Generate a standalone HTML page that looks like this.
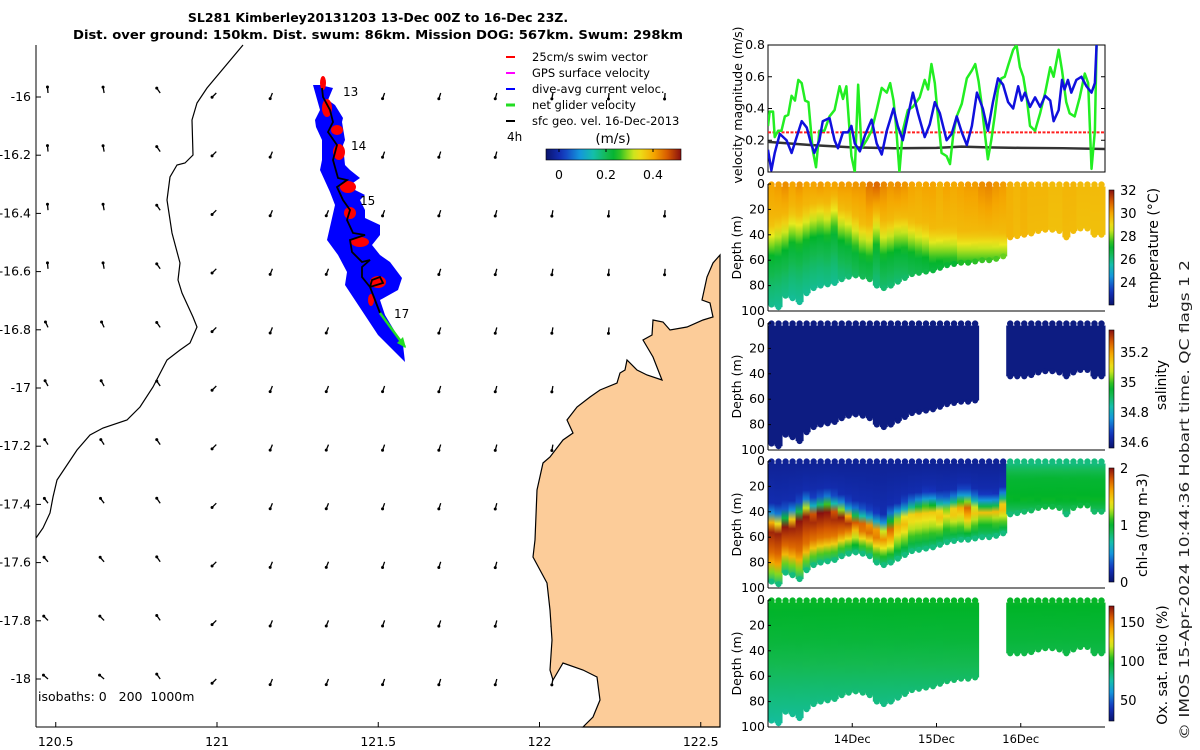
<!DOCTYPE html>
<html><head><meta charset="utf-8">
<style>
html,body{margin:0;padding:0;background:#fff;}
svg{display:block;font-family:"DejaVu Sans","Liberation Sans",sans-serif;}
</style></head>
<body>
<svg id="fig" width="1200" height="750" viewBox="0 0 1200 750" xmlns="http://www.w3.org/2000/svg">
<defs id="defs"></defs>
<text x="378" y="22" text-anchor="middle" font-size="12.5" font-weight="bold">SL281 Kimberley20131203 13-Dec 00Z to 16-Dec 23Z.</text>
<text x="378" y="39" text-anchor="middle" font-size="12.5" font-weight="bold" textLength="610" lengthAdjust="spacingAndGlyphs">Dist. over ground: 150km. Dist. swum: 86km. Mission DOG: 567km. Swum: 298km</text>
<g id="map"></g>
<g id="vel"></g>
<g id="sec"></g>
<text transform="translate(1189,500) rotate(-90)" text-anchor="middle" font-size="13" textLength="480" lengthAdjust="spacingAndGlyphs" fill="#222">© IMOS 15-Apr-2024 10:44:36 Hobart time. QC flags 1  2</text>
</svg>
<script>
// ---------- data ----------
const latTicks=[-16,-16.2,-16.4,-16.6,-16.8,-17,-17.2,-17.4,-17.6,-17.8,-18];
const lonTicks=[120.5,121,121.5,122,122.5];
const greenT=[0,.02,.06,.08,.12,.16,.20,.24,.28,.32,.36,.40,.44,.48,.53,.57,.61,.67,.73,.79,.85,.89,.93,.99,1.03,1.07,1.11,1.17,1.23,1.29,1.35,1.41,1.45,1.49,1.52,1.56,1.60,1.66,1.72,1.80,1.86,1.90,1.94,1.98,2.02,2.06,2.12,2.16,2.20,2.24,2.30,2.36,2.42,2.46,2.50,2.53,2.57,2.61,2.65,2.69,2.73,2.77,2.81,2.85,2.91,2.95,2.99,3.03,3.07,3.11,3.17,3.23,3.29,3.35,3.39,3.45,3.49,3.54,3.58,3.64,3.70,3.76,3.80,3.84,3.88,3.90];
const greenV=[.29,.38,.38,.22,.26,.26,.35,.36,.48,.45,.58,.56,.45,.44,.14,.03,.26,.26,.35,.39,.54,.46,.54,.10,0,.55,.15,.2,.26,.39,.53,.5,.56,.45,.29,0,.26,.39,.41,.47,.58,.52,.68,.56,.33,.12,.10,.05,.24,.35,.43,.59,.64,.68,.57,.45,.26,.08,.2,.35,.52,.59,.6,.67,.77,.8,.66,.6,.47,.29,.26,.37,.5,.66,.6,.77,.64,.44,.37,.35,.47,.62,.56,.02,.26,.8];
const blueT=[0,.04,.08,.14,.22,.28,.34,.40,.46,.51,.55,.61,.65,.73,.79,.83,.89,.95,.99,1.03,1.09,1.15,1.23,1.29,1.35,1.41,1.49,1.54,1.60,1.66,1.72,1.78,1.86,1.92,1.98,2.04,2.12,2.18,2.24,2.30,2.36,2.42,2.48,2.55,2.61,2.67,2.73,2.79,2.85,2.91,2.97,3.01,3.05,3.11,3.17,3.23,3.29,3.35,3.39,3.45,3.49,3.52,3.56,3.60,3.66,3.72,3.78,3.84,3.88,3.90];
const blueV=[.14,.01,.12,.24,.2,.12,.22,.32,.28,.18,.12,.2,.32,.34,.2,.15,.25,.25,.29,.18,.13,.23,.33,.18,.11,.26,.4,.29,.2,.35,.5,.37,.22,.3,.44,.37,.2,.24,.35,.25,.17,.29,.5,.4,.26,.44,.59,.55,.44,.4,.54,.45,.5,.41,.47,.41,.48,.45,.32,.39,.58,.52,.58,.5,.58,.6,.54,.5,.56,.8];
const geoT=[0,.5,1,1.5,2,2.3,2.6,3,3.5,4];
const geoV=[.19,.17,.155,.15,.152,.16,.155,.152,.15,.145];
const swimV=0.25;
const profBottom=[95,97,88,90,93,86,82,80,79,78,75,73,72,73,75,80,82,80,77,74,71,70,69,68,66,64,63,62,62,61,60,60,59,57,42,41,40,39,37,36,36,37,42,37,35,35,40,40];
const thermo=[50,48,45,40,42,38,35,33,35,30,38,40,45,50,52,42,50,48,45,45,48,50,52,55,55,55,55,58,58,58,58,58,58,58,999,999,999,999,999,999,999,999,999,999,999,999,999,999];
const surfT=[30.0,30.1,30.3,30.0,30.2,30.0,30.0,30.1,30.0,30.0,30.1,30.1,30.2,30.2,30.6,30.8,30.4,30.2,30.3,30.2,30.0,29.9,30.0,30.0,29.8,30.0,29.9,30.0,30.1,30.1,30.3,30.4,30.2,30.1,29.8,29.7,29.8,29.7,29.7,29.7,29.6,29.6,29.7,29.7,29.6,29.6,29.6,29.6];
const chlBlueEnd=[40,42,40,38,35,30,32,30,28,30,32,35,38,40,42,45,48,42,38,35,32,30,28,28,30,30,28,25,25,28,30,30,30,25,5,5,5,5,5,5,5,5,5,5,5,5,5,5];
const chlPeak=[2,2,2,2,2,2,2,2,2,2,2,2,1.8,2,2,1.9,1.8,1.8,1.6,1.6,1.5,1.5,1.5,1.5,1.6,1.5,1.6,1.6,1.8,1.6,1.5,1.5,1.6,1.7,1.05,1.0,1.0,1.0,1.0,1.0,1.0,0.95,0.9,0.9,0.85,0.85,0.8,0.8];
const salGapStart=30, salGapEnd=33;
const oxSurf=100, oxMid=95, oxDeep=82;
const arrowAng=[-95,-100,-125,135,112,112,110,108,105,100,95,95,95];
const coastW=[[243,45],[207,88],[197,103],[192,120],[193,155],[185,163],[177,165],[170,177],[167,200],[172,233],[180,263],[178,280],[182,293],[193,317],[197,327],[190,343],[180,350],[167,360],[153,387],[140,407],[127,420],[103,428],[90,435],[77,450],[57,480],[53,497],[50,513],[43,528],[36,538]];
const landE=[[720,255],[713,263],[707,277],[702,300],[710,303],[713,317],[703,320],[687,327],[670,330],[663,322],[653,320],[652,335],[643,340],[653,357],[662,380],[647,375],[637,370],[627,360],[625,370],[620,373],[617,383],[600,390],[590,397],[577,407],[567,420],[573,433],[563,440],[550,457],[543,463],[537,490],[535,540],[533,557],[547,583],[550,610],[552,640],[550,670],[553,680],[563,663],[583,670],[597,677],[600,700],[593,717],[583,727],[720,727]];
const track=[[322,88],[323,97],[330,110],[333,122],[328,132],[337,145],[333,160],[338,178],[347,180],[337,187],[343,200],[350,210],[347,220],[353,233],[365,235],[350,240],[352,252],[362,262],[370,260],[362,267],[362,277],[370,287],[383,283],[380,277],[372,280],[370,287],[380,313]];
const envelope=[[313,85],[320,110],[315,120],[316,127],[322,140],[322,160],[320,170],[330,192],[335,205],[327,240],[338,255],[347,272],[345,285],[378,335],[405,362],[403,345],[385,315],[380,300],[398,290],[402,278],[390,262],[380,255],[372,245],[380,235],[380,225],[365,218],[365,210],[360,200],[365,195],[355,190],[350,185],[360,178],[350,170],[345,165],[343,145],[345,140],[342,122],[343,118],[335,105],[328,100],[333,88],[320,85]];
const redBlobs=[[323,83,3,7],[327,108,5,9],[337,130,6,5],[339,152,6,8],[348,187,8,6],[350,213,6,6],[360,242,9,5],[378,282,8,6],[371,300,3,6]];

// ---------- helpers ----------
const NS="http://www.w3.org/2000/svg";
function mk(tag,attrs,parent){const e=document.createElementNS(NS,tag);for(const k in attrs)e.setAttribute(k,attrs[k]);parent.appendChild(e);return e;}
const cmapStops=[[0,[10,20,110]],[0.12,[20,50,190]],[0.25,[20,150,220]],[0.35,[20,190,170]],[0.45,[20,185,80]],[0.52,[0,180,40]],[0.6,[130,215,30]],[0.67,[235,235,30]],[0.8,[245,165,0]],[0.9,[215,90,0]],[1,[135,15,15]]];
function cmap(f){f=Math.max(0,Math.min(1,f));for(let i=1;i<cmapStops.length;i++){if(f<=cmapStops[i][0]){const a=cmapStops[i-1],b=cmapStops[i];const r=(f-a[0])/(b[0]-a[0]);const c=a[1].map((v,j)=>Math.round(v+(b[1][j]-v)*r));return `rgb(${c[0]},${c[1]},${c[2]})`;}}return 'rgb(135,15,15)';}
function interp(pts,d){if(d<=pts[0][0])return pts[0][1];for(let i=1;i<pts.length;i++){if(d<=pts[i][0]){const a=pts[i-1],b=pts[i];return a[1]+(b[1]-a[1])*(d-a[0])/(b[0]-a[0]);}}return pts[pts.length-1][1];}
const defs=document.getElementById('defs');
function addGrad(id,stops){const g=mk('linearGradient',{id:id,x1:0,y1:0,x2:0,y2:1},defs);stops.forEach(s=>mk('stop',{offset:Math.max(0,Math.min(1,s[0])),'stop-color':s[1]},g));}
function addCbar(parent,x,y,w,h,name){const id='cb'+name;const g=mk('linearGradient',{id:id,x1:0,y1:1,x2:0,y2:0},defs);for(let i=0;i<=20;i++)mk('stop',{offset:i/20,'stop-color':cmap(i/20)},g);const r=mk('rect',{x:x,y:y,width:w,height:h,fill:`url(#${id})`,stroke:'#000','stroke-width':0.6},parent);}

// ---------- map ----------
const map=document.getElementById('map');
const mx=lon=>217+(lon-121)*322.5, my=lat=>97+(lat+16)*(-291);
for(let k=0;k<11;k++){for(let j=0;j<arrowAng.length;j++){const x=48+j*56.1,y=93+k*58.6;if(x>716)continue;let ang=arrowAng[j];if(j<2&&k>3)ang=-115-(k-4)*4;const a=ang*Math.PI/180;const L=6;const x2=x+L*Math.cos(a),y2=y+L*Math.sin(a);const ar=mk('line',{x1:x,y1:y,x2:x2,y2:y2,stroke:'#000','stroke-width':1.3},map);const hd=mk('circle',{cx:x2,cy:y2,r:1.5,fill:'#000'},map);}}
const cw=mk('polyline',{points:coastW.map(p=>p.join(',')).join(' '),fill:'none',stroke:'#000','stroke-width':1.2},map);

const le=mk('polygon',{points:landE.map(p=>p.join(',')).join(' '),fill:'#fccc99',stroke:'#000','stroke-width':1.2},map);

const env=mk('polygon',{points:envelope.map(p=>p.join(',')).join(' '),fill:'#0000ff',stroke:'none'},map);

redBlobs.forEach(b=>{const e=mk('ellipse',{cx:b[0],cy:b[1],rx:b[2],ry:b[3],fill:'#ff0000'},map);});
const tr=mk('polyline',{points:track.map(p=>p.join(',')).join(' '),fill:'none',stroke:'#000','stroke-width':1.8},map);

const last=track[track.length-1];
const ga=mk('line',{x1:last[0],y1:last[1],x2:405,y2:347,stroke:'#22dd22','stroke-width':2.5},map);

mk('polygon',{points:'406,348 397,343 403,337',fill:'#22dd22'},map);
[['13',343,96],['14',351,150],['15',360,205],['17',394,318]].forEach(d=>{const t=mk('text',{x:d[1],y:d[2],'font-size':12},map);t.textContent=d[0];});
mk('line',{x1:36,y1:45,x2:36,y2:727,stroke:'#000','stroke-width':1},map);
mk('line',{x1:36,y1:727,x2:720,y2:727,stroke:'#000','stroke-width':1},map);
latTicks.forEach(l=>{const y=my(l);mk('line',{x1:36,y1:y,x2:41,y2:y,stroke:'#000'},map);const t=mk('text',{x:31,y:y+4,'text-anchor':'end','font-size':12.5},map);t.textContent=String(l);});
lonTicks.forEach(l=>{const x=mx(l);mk('line',{x1:x,y1:727,x2:x,y2:722,stroke:'#000'},map);const t=mk('text',{x:x,y:746,'text-anchor':'middle','font-size':12.5},map);t.textContent=String(l);});
let it=mk('text',{x:38,y:701,'font-size':12.5,style:'white-space:pre'},map);it.textContent='isobaths: 0   200  1000m';
it=mk('text',{x:507,y:141,'font-size':12},map);it.textContent='4h';
const leg=[['#ff0000','25cm/s swim vector'],['#ff00ff','GPS surface velocity'],['#0000ff','dive-avg current veloc.'],['#22dd22','net glider velocity'],['#000000','sfc geo. vel. 16-Dec-2013']];
leg.forEach((l,i)=>{const y=61+i*16;const g=mk('g',{},map);mk('line',{x1:506,y1:y-4,x2:515,y2:y-4,stroke:l[0],'stroke-width':i===3?3:2},g);const t=mk('text',{x:532,y:y,'font-size':11.5},g);t.textContent=l[1];});
it=mk('text',{x:613,y:143,'text-anchor':'middle','font-size':13.5},map);it.textContent='(m/s)';
{const id='cbmap';const g=mk('linearGradient',{id:id,x1:0,y1:0,x2:1,y2:0},defs);for(let i=0;i<=20;i++)mk('stop',{offset:i/20,'stop-color':cmap(i/20)},g);const r=mk('rect',{x:546,y:149,width:135,height:11,fill:'url(#cbmap)',stroke:'#000','stroke-width':0.6},map);
[[0,559],[0.2,606],[0.4,653]].forEach(d=>{mk('line',{x1:d[1],y1:149,x2:d[1],y2:152,stroke:'#000'},map);const t=mk('text',{x:d[1],y:179,'text-anchor':'middle','font-size':12.5},map);t.textContent=String(d[0]);});}

// ---------- velocity panel ----------
const vel=document.getElementById('vel');
const X0=768,X1=1105, tx=t=>X0+t*84.25;
const vy=v=>172-v*158.75;
mk('rect',{x:X0,y:45,width:X1-X0,height:127,fill:'none',stroke:'#000','stroke-width':1},vel);
[0,0.2,0.4,0.6,0.8].forEach(v=>{const y=vy(v);mk('line',{x1:X0,y1:y,x2:X0+4,y2:y,stroke:'#000'},vel);mk('line',{x1:X1,y1:y,x2:X1-4,y2:y,stroke:'#000'},vel);const t=mk('text',{x:765,y:y+4,'text-anchor':'end','font-size':12.5},vel);t.textContent=String(v);});
it=mk('text',{transform:'translate(742,105) rotate(-90)','text-anchor':'middle','font-size':12.5},vel);it.textContent='velocity magnitude (m/s)';
const clipV=mk('clipPath',{id:'clipV'},defs);mk('rect',{x:X0,y:45,width:X1-X0,height:127},clipV);
const vg=mk('g',{'clip-path':'url(#clipV)'},vel);
let l=mk('line',{x1:X0,y1:vy(swimV),x2:X1,y2:vy(swimV),stroke:'#ff2020','stroke-width':2,'stroke-dasharray':'3,1.5'},vg);
l=mk('polyline',{points:geoT.map((t,i)=>tx(t)+','+vy(geoV[i])).join(' '),fill:'none',stroke:'#333','stroke-width':2.5},vg);
l=mk('polyline',{points:greenT.map((t,i)=>tx(t)+','+vy(greenV[i])).join(' '),fill:'none',stroke:'#22ee22','stroke-width':2.5,'stroke-linejoin':'round'},vg);
l=mk('polyline',{points:blueT.map((t,i)=>tx(t)+','+vy(blueV[i])).join(' '),fill:'none',stroke:'#1010dd','stroke-width':2.5,'stroke-linejoin':'round'},vg);

// ---------- section panels ----------
const sec=document.getElementById('sec');
const panels=[{name:'temperature',top:184},{name:'salinity',top:323},{name:'chl-a',top:461},{name:'oxygen',top:600}];
const PH=127, N=profBottom.length, step=(X1-X0)/N;
const tNorm=v=>(v-22)/10, cNorm=v=>v/2, oNorm=v=>(v-23)/147;
function valueAt(pi,i,d,bot){
  if(pi===0){const th=thermo[i];if(th>500)return surfT[i]-0.1*d/bot;return interp([[0,surfT[i]],[th-20,29.6],[th-5,28.2],[th+8,27.0],[th+30,26.2],[th+60,25.5]],d);}
  if(pi===1)return 0.03;
  if(pi===2){if(i>=34)return cNorm(interp([[0,0.8],[12,1.0],[30,1.05],[45,0.75]],d));const be=chlBlueEnd[i],pk=chlPeak[i];return cNorm(interp([[0,0.12],[be-6,0.2],[be+2,0.6],[be+10,pk],[bot-18,pk*0.85],[bot,0.8]],d));}
  return oNorm(interp([[0,oxSurf],[30,oxMid],[65,oxDeep+3],[100,oxDeep-6]],d));
}
panels.forEach((p,pi)=>{
  const g=mk('g',{},sec);
  const dy=d=>p.top+d*PH/100;
  for(let i=0;i<N;i++){
    const gap=(pi===1||pi===3)&&i>=salGapStart&&i<=salGapEnd;
    if(gap)continue;
    let bot=profBottom[i];
    if((pi===1||pi===3)&&i>salGapEnd)bot=Math.min(bot+2,42);
    const col=d=>pi===0?cmap(tNorm(valueAt(pi,i,d,bot))):cmap(valueAt(pi,i,d,bot));
    const stops=[];for(let s=0;s<=12;s++){const d=bot*s/12;stops.push([s/12,col(d)]);}
    const id='g'+pi+'_'+i;addGrad(id,stops);
    const x=X0+i*step;
    const r=mk('rect',{x:x-0.5,y:dy(2),width:step+1,height:dy(bot)-dy(2),fill:`url(#${id})`},g);
    
    const c=mk('circle',{cx:x+step/2,cy:dy(0.5),r:3.2,fill:col(0)},g);
    
    const c2=mk('circle',{cx:x+step/2,cy:dy(bot),r:3,fill:col(bot)},g);
    
  }
  mk('line',{x1:X0,y1:p.top+PH,x2:X1,y2:p.top+PH,stroke:'#000','stroke-width':1},g);
  mk('line',{x1:X0,y1:p.top,x2:X0,y2:p.top+PH,stroke:'#000','stroke-width':1},g);
  [0,20,40,60,80,100].forEach(d=>{const y=dy(d);mk('line',{x1:X0,y1:y,x2:X0+3,y2:y,stroke:'#000'},g);const t=mk('text',{x:765,y:y+4,'text-anchor':'end','font-size':12.5},g);t.textContent=String(d);});
  const t=mk('text',{transform:`translate(741,${p.top+PH/2}) rotate(-90)`,'text-anchor':'middle','font-size':12.5},g);t.textContent='Depth (m)';
});
addCbar(sec,1109,190,5,115,'temperature');
[[32,190],[30,213],[28,236],[26,259],[24,282]].forEach(d=>{const t=mk('text',{x:1120,y:d[1]+5,'font-size':13},sec);t.textContent=d[0];});
it=mk('text',{transform:'translate(1158,248) rotate(-90)','text-anchor':'middle','font-size':14},sec);it.textContent='temperature (°C)';
addCbar(sec,1109,330,5,118,'salinity');
[['35.2',352],['35',382],['34.8',412],['34.6',442]].forEach(d=>{const t=mk('text',{x:1120,y:d[1]+5,'font-size':13},sec);t.textContent=d[0];});
it=mk('text',{transform:'translate(1166,385) rotate(-90)','text-anchor':'middle','font-size':14},sec);it.textContent='salinity';
addCbar(sec,1109,468,5,114,'chl');
[['2',468],['1',525],['0',582]].forEach(d=>{const t=mk('text',{x:1120,y:d[1]+5,'font-size':13},sec);t.textContent=d[0];});
it=mk('text',{transform:'translate(1147,525) rotate(-90)','text-anchor':'middle','font-size':14},sec);it.textContent='chl-a (mg m-3)';
addCbar(sec,1109,606,5,115,'oxygen');
[['150',622],['100',661],['50',700]].forEach(d=>{const t=mk('text',{x:1120,y:d[1]+5,'font-size':13},sec);t.textContent=d[0];});
it=mk('text',{transform:'translate(1167,665) rotate(-90)','text-anchor':'middle','font-size':14},sec);it.textContent='Ox. sat. ratio (%)';
[['14Dec',1],['15Dec',2],['16Dec',3]].forEach(d=>{const x=tx(d[1]);mk('line',{x1:x,y1:727,x2:x,y2:723,stroke:'#000'},sec);const t=mk('text',{x:x,y:743,'text-anchor':'middle','font-size':11.5},sec);t.textContent=d[0];});
</script>
</body></html>
